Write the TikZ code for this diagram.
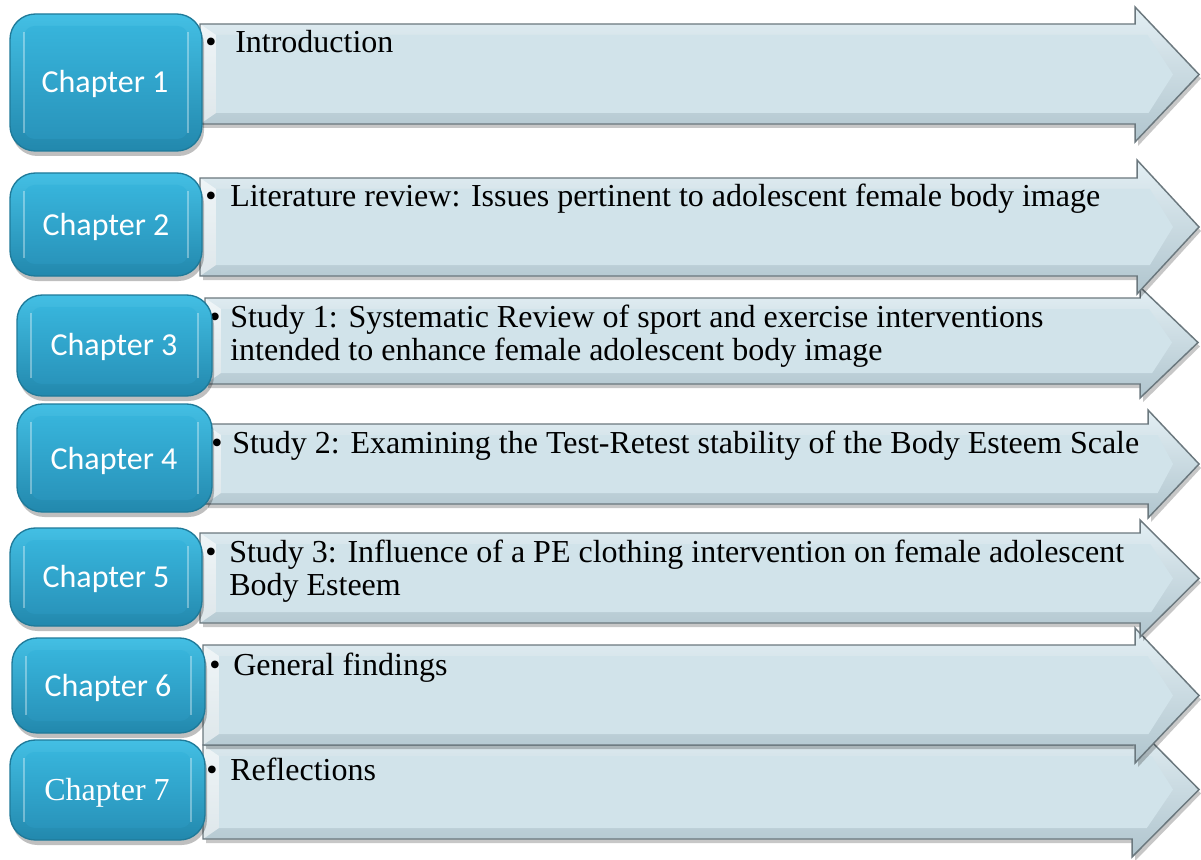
\documentclass[tikz,border=0pt]{standalone}
\usepackage{fontspec}
\setmainfont{Liberation Serif}
\newfontfamily\carl{Carlito}
\definecolor{boxtop}{HTML}{43BFE4}
\definecolor{boxbot}{HTML}{2288AD}
\definecolor{boxline}{HTML}{1F7A99}
\definecolor{boxin1}{HTML}{37B4DB}
\definecolor{boxin2}{HTML}{2994BB}
\definecolor{arrtop}{HTML}{E3EFF4}
\definecolor{arrbot}{HTML}{B0C5CE}
\definecolor{arrin}{HTML}{D1E3EA}
\definecolor{arrline}{HTML}{6B787E}
\newcommand{\mychev}[8]{%
 \pgfmathsetmacro\yc{(#6+#7)/2}%
 \pgfmathsetmacro\iyt{#3+11}%
 \pgfmathsetmacro\iyb{#4-11}%
 \pgfmathsetmacro\ixl{#2+16}%
 \pgfmathsetmacro\ixp{#8-26}%
 \pgfmathsetmacro\ixn{#5+(\iyt-#6)/(\yc-#6)*(#8-#5)-14}%
 \pgfmathsetmacro\ixnb{#5+(#7-\iyb)/(#7-\yc)*(#8-#5)-14}%
 \fill[black,opacity=0.22] (#2+3,#3+4) -- (#5+3,#3+4) -- (#5+3,#6+4) -- (#8+2,\yc+4) -- (#5+3,#7+4) -- (#5+3,#4+4) -- (#2+3,#4+4) -- cycle;
 \shade[top color=arrtop,bottom color=arrbot] (#2,#3) -- (#5,#3) -- (#5,#6) -- (#8,\yc) -- (#5,#7) -- (#5,#4) -- (#2,#4) -- cycle;
 \fill[white,opacity=0.55] (#2,#3) -- (\ixl,\iyt) -- (\ixl,\iyb) -- (#2,#4) -- cycle;
 \fill[arrin] (\ixl,\iyt) -- (\ixn,\iyt) -- (\ixp,\yc) -- (\ixnb,\iyb) -- (\ixl,\iyb) -- cycle;
 \draw[arrline,line width=1.1pt,line join=miter] (#2,#3) -- (#5,#3) -- (#5,#6) -- (#8,\yc) -- (#5,#7) -- (#5,#4) -- (#2,#4) -- cycle;
}
\newcommand{\mybox}[4]{%
 \fill[black,opacity=.25,rounded corners=19pt] (#1+2,#2+5) rectangle (#3+2,#4+5);
 \shade[top color=boxtop,bottom color=boxbot,rounded corners=19pt] (#1,#2) rectangle (#3,#4);
 \shade[top color=boxin1,bottom color=boxin2,rounded corners=8pt] (#1+14,#2+12) rectangle (#3-14,#4-12);
 \draw[white,opacity=.35,line width=2pt] (#1+14,#2+18) -- (#1+14,#4-18) (#3-14,#2+18) -- (#3-14,#4-18);
 \draw[boxline,line width=1pt,rounded corners=19pt] (#1,#2) rectangle (#3,#4);
}
\begin{document}
\begin{tikzpicture}[x=0.75pt,y=-0.75pt,
  chap/.style={text=white,font=\carl\fontsize{24}{28}\selectfont,inner sep=0pt,anchor=base},
  chapser/.style={text=white,font=\fontsize{24}{28}\selectfont,inner sep=0pt,anchor=base},
  txt/.style={text=black,font=\fontsize{24}{26}\selectfont,inner sep=0pt,anchor=base west},
  bul/.style={text=black,font=\fontsize{24}{26}\selectfont,inner sep=0pt,anchor=base west}]
\useasboundingbox (0,0) rectangle (1201,859);
% arrows, bottom to top so upper ones overlap
\mychev{a7}{203}{745}{839}{1132}{722}{857}{1199}
\mychev{a6}{203}{645}{745}{1135}{628}{763}{1199}
\mychev{a5}{200}{533}{623}{1140}{520}{637}{1199}
\mychev{a4}{205}{424}{504}{1148}{410}{518}{1199}
\mychev{a3}{205}{298}{384}{1140}{287}{398}{1198}
\mychev{a2}{200}{178}{276}{1137}{160}{294}{1199}
\mychev{a1}{200}{24}{124}{1135}{7}{142}{1199}
% bullets and texts
\node[bul] (b1) at (205,53) {•};
\node[txt] (t1) at (235,53) {Introduction};
\node[bul] (b2) at (205,207) {•};
\node[txt] (t2) at (230,207) {Literature review: Issues pertinent to adolescent female body image};
\node[bul] (b3) at (209,327) {•};
\node[txt] (t3) at (230,327) {Study 1: Systematic Review of sport and exercise interventions};
\node[txt] (t3b) at (230,360) {intended to enhance female adolescent body image};
\node[bul] (b4) at (211,453) {•};
\node[txt] (t4) at (232,453) {Study 2: Examining the Test-Retest stability of the Body Esteem Scale};
\node[bul] (b5) at (205,562) {•};
\node[txt] (t5) at (229,562) {Study 3: Influence of a PE clothing intervention on female adolescent};
\node[txt] (t5b) at (229,595) {Body Esteem};
\node[bul] (b6) at (209,675) {•};
\node[txt] (t6) at (233,675) {General findings};
\node[bul] (b7) at (206,780) {•};
\node[txt] (t7) at (230,780) {Reflections};
% chapter boxes
\mybox{10}{14}{202}{151}
\mybox{10}{173}{202}{276}
\mybox{17}{295}{212}{396}
\mybox{17}{404}{212}{512}
\mybox{10}{528}{202}{626}
\mybox{12}{638}{205}{733}
\mybox{10}{740}{205}{840}
\node[chap] (c1) at (105,93) {Chapter 1};
\node[chap] (c2) at (106,235) {Chapter 2};
\node[chap] (c3) at (114,355) {Chapter 3};
\node[chap] (c4) at (114,469) {Chapter 4};
\node[chap] (c5) at (106,587) {Chapter 5};
\node[chap] (c6) at (108,696) {Chapter 6};
\node[chapser] (c7) at (107,800) {Chapter 7};
\end{tikzpicture}
\end{document}
